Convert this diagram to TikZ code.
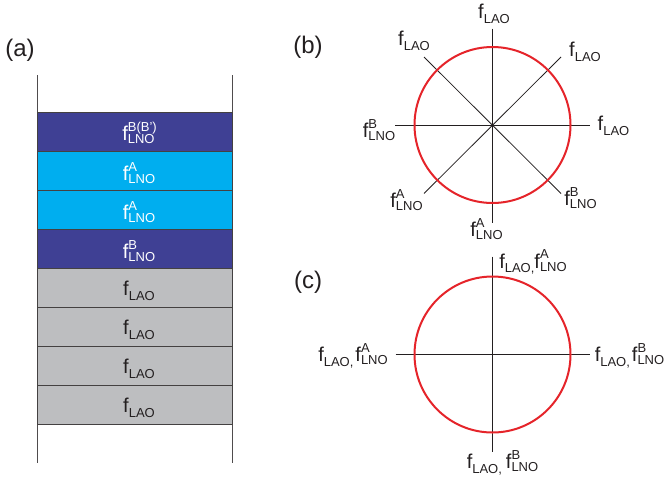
\documentclass[tikz,border=0pt]{standalone}
\usepackage{fontspec}
\setmainfont{Liberation Sans}
\definecolor{dkblue}{RGB}{63,64,148}
\definecolor{ltblue}{RGB}{0,174,239}
\definecolor{lgray}{RGB}{189,190,192}
\definecolor{txtgray}{RGB}{35,31,32}
\definecolor{ringred}{RGB}{229,36,42}
\newsavebox\mysupbox
\newsavebox\mysubbox
% f with subscript #1 and superscript #2
\newcommand{\fl}[2]{{\fontsize{20}{22}\selectfont f}{\fontsize{13}{14}\selectfont
  \sbox\mysupbox{#2}\sbox\mysubbox{#1}%
  \rlap{\raisebox{9.5pt}{\usebox\mysupbox}}\raisebox{-3pt}{\usebox\mysubbox}%
  \ifdim\wd\mysupbox>\wd\mysubbox\kern\dimexpr\wd\mysupbox-\wd\mysubbox\relax\fi}}
% f with subscript only
\newcommand{\fsub}[1]{{\fontsize{20}{22}\selectfont f}{\fontsize{13}{14}\selectfont\raisebox{-4.5pt}{#1}}}
\begin{document}
\begin{tikzpicture}[x=1pt,y=-1pt,
  layer/.style={draw=txtgray!85,line width=0.8pt,minimum width=195pt,minimum height=39pt,inner sep=0pt},
  dk/.style={layer,fill=dkblue},
  lt/.style={layer,fill=ltblue},
  gr/.style={layer,fill=lgray},
  ltxt/.style={inner sep=0pt},
  wtxt/.style={ltxt,text=white},
  gtxt/.style={ltxt,text=txtgray},
  lab/.style={inner sep=0pt,text=txtgray},
  plab/.style={inner sep=0pt,font=\fontsize{24}{26}\selectfont,text=txtgray},
  axis/.style={draw=txtgray,line width=0.8pt},
  ring/.style={draw=ringred,line width=2pt}]
\useasboundingbox (0,0) rectangle (669,482);
% panel labels
\node[plab] (pa) at (20,50) {(a)};
\node[plab] (pb) at (308,47) {(b)};
\node[plab] (pc) at (308,282) {(c)};
% (a) side walls
\coordinate (wlt) at (37,75);
\coordinate (wlb) at (37,463);
\coordinate (wrt) at (232,75);
\coordinate (wrb) at (232,463);
\draw[axis,draw=txtgray!80] (wlt) -- (wlb);
\draw[axis,draw=txtgray!80] (wrt) -- (wrb);
% layers
\node[dk] (L1) at (134.5,132) {};
\node[lt] (L2) at (134.5,171) {};
\node[lt] (L3) at (134.5,210) {};
\node[dk] (L4) at (134.5,249) {};
\node[gr] (L5) at (134.5,288) {};
\node[gr] (L6) at (134.5,327) {};
\node[gr] (L7) at (134.5,366) {};
\node[gr] (L8) at (134.5,405) {};
\node[wtxt] (T1) at ([shift={(5,1)}]L1.center) {\fl{LNO}{B(B’)}};
\node[wtxt] (T2) at ([shift={(4.5,2)}]L2.center) {\fl{LNO}{A}};
\node[wtxt] (T3) at ([shift={(4.5,2)}]L3.center) {\fl{LNO}{A}};
\node[wtxt] (T4) at ([shift={(4.5,2)}]L4.center) {\fl{LNO}{B}};
\node[gtxt] (T5) at ([shift={(4.5,3)}]L5.center) {\fsub{LAO}};
\node[gtxt] (T6) at ([shift={(4.5,3)}]L6.center) {\fsub{LAO}};
\node[gtxt] (T7) at ([shift={(4.5,3)}]L7.center) {\fsub{LAO}};
\node[gtxt] (T8) at ([shift={(4.5,3)}]L8.center) {\fsub{LAO}};
% (b)
\coordinate (bc) at (492.5,125);
\coordinate (bN) at (492.5,28.5);
\coordinate (bS) at (492.5,222.5);
\coordinate (bW) at (395,125);
\coordinate (bE) at (589.5,125);
\coordinate (bNW) at (424,57);
\coordinate (bNE) at (561,57);
\coordinate (bSW) at (424,193.5);
\coordinate (bSE) at (561,193.5);
\draw[axis] (bN) -- (bS);
\draw[axis] (bW) -- (bE);
\draw[axis] (bNW) -- (bSE);
\draw[axis] (bNE) -- (bSW);
\draw[ring] (bc) circle[radius=78pt];
\node[lab] (b1) at (494,14) {\fsub{LAO}};
\node[lab] (b2) at (414,41) {\fsub{LAO}};
\node[lab] (b3) at (585,52) {\fsub{LAO}};
\node[lab] (b4) at (613.5,126) {\fsub{LAO}};
\node[lab] (b5) at (379,130) {\fl{LNO}{B}};
\node[lab] (b6) at (406.5,200) {\fl{LNO}{A}};
\node[lab] (b7) at (580.5,198) {\fl{LNO}{B}};
\node[lab] (b8) at (486.5,229) {\fl{LNO}{A}};
% (c)
\coordinate (cc) at (492.5,354.5);
\coordinate (cN) at (492.5,256.5);
\coordinate (cS) at (492.5,451.5);
\coordinate (cW) at (395.5,354.5);
\coordinate (cE) at (589.5,354.5);
\draw[axis] (cN) -- (cS);
\draw[axis] (cW) -- (cE);
\draw[ring] (cc) circle[radius=78pt];
\node[lab] (c1) at (533,262) {\fsub{LAO,}\fl{LNO}{A}};
\node[lab] (c2) at (353,355.5) {\fsub{LAO,}\kern2pt\fl{LNO}{A}};
\node[lab] (c3) at (629.5,355.5) {\fsub{LAO,}\kern2pt\fl{LNO}{B}};
\node[lab] (c4) at (502.5,462.5) {\fsub{LAO,}\kern4pt\fl{LNO}{B}};
\end{tikzpicture}
\end{document}
